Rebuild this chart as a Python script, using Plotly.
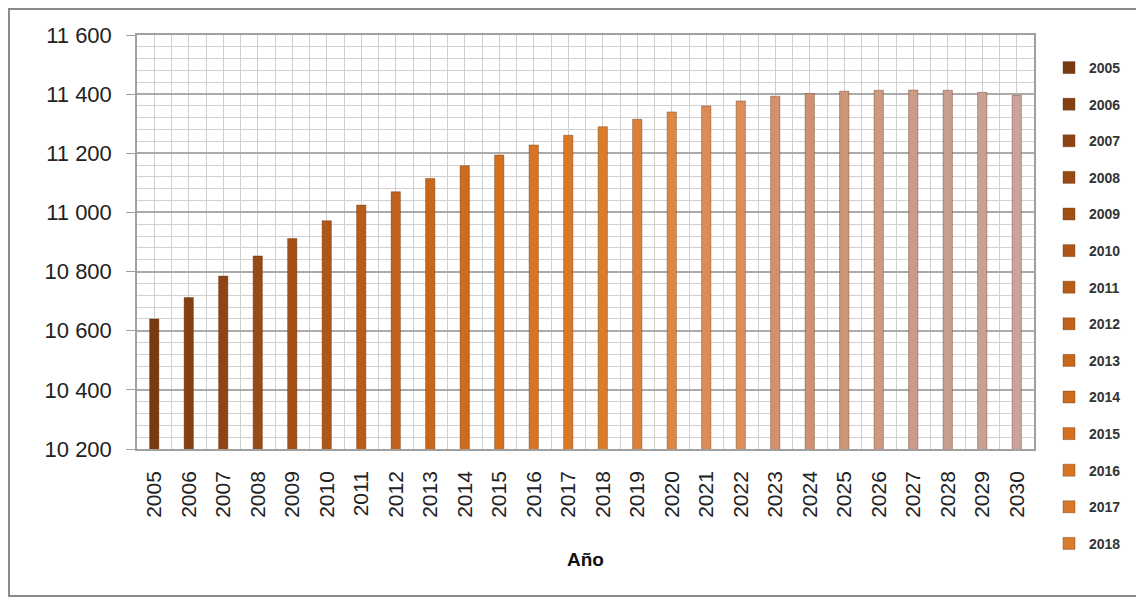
import plotly.graph_objects as go

years = [2005, 2006, 2007, 2008, 2009, 2010, 2011, 2012, 2013, 2014, 2015, 2016, 2017,
         2018, 2019, 2020, 2021, 2022, 2023, 2024, 2025, 2026, 2027, 2028, 2029, 2030]
values = [10640, 10712, 10785, 10853, 10912, 10972, 11025, 11070, 11115, 11158, 11194,
          11228, 11261, 11290, 11315, 11340, 11360, 11377, 11393, 11402, 11410, 11413,
          11414, 11413, 11406, 11396]
colors = ["#7a3a10", "#844012", "#8e4513", "#984b14", "#a25115", "#ad5716", "#b75d17",
          "#c06219", "#c8661a", "#cf6b1c", "#d5701f", "#d87424", "#d97828", "#da7c2e",
          "#dc8038", "#de8645", "#dc8c52", "#d98f5c", "#d49068", "#cf9170", "#cd9678",
          "#cb9a80", "#ca9c88", "#c99e8e", "#c9a094", "#c8a49c"]
legend_years = years[:14]

# page offset of 8px (browser body margin) compensated
OFF = 8
W, H = 1144 - OFF, 601 - OFF
L, R, T, B = 137 - OFF, 1034 - OFF, 35 - OFF, 449 - OFF

fig = go.Figure()
for yr, v, c in zip(years, values, colors):
    fig.add_trace(go.Bar(
        x=[yr], y=[v], name=str(yr), width=0.27,
        marker=dict(color=c, line=dict(color="rgba(90,40,10,0.35)", width=1)),
        showlegend=yr in legend_years, legendgroup=str(yr),
    ))

def px_to_paper_x(px):
    return (px - OFF - L) / (R - L)

def px_to_paper_y(py):
    return (B - (py - OFF)) / (B - T)

fig.update_layout(
    width=W, height=H,
    margin=dict(l=L, r=W - R, t=T, b=H - B),
    paper_bgcolor="white", plot_bgcolor="white",
    barmode="overlay",
    separators=", ",
    font=dict(family="Liberation Sans", color="#222"),
    legend=dict(
        x=px_to_paper_x(1049), y=px_to_paper_y(52), xanchor="left", yanchor="top",
        font=dict(family="Liberation Sans", size=14, color="#333", weight="bold"),
        tracegroupgap=15.4, itemwidth=30, bgcolor="rgba(0,0,0,0)", maxheight=560,
    ),
    xaxis=dict(
        range=[2004.5, 2030.5], tickmode="array", tickvals=years,
        ticktext=[str(y) for y in years], tickangle=-90,
        tickfont=dict(size=21, color="#222"), ticks="", ticklabelstandoff=12,
        showgrid=True, gridcolor="#cfcfcf", gridwidth=1,
        minor=dict(tick0=2004.5, dtick=1, showgrid=True, gridcolor="#cfcfcf", gridwidth=1),
        showline=True, linecolor="#a0a0a0", linewidth=1.5, mirror=True,
        title=dict(text="<b>Año</b>", font=dict(size=19, color="#111"), standoff=36),
        zeroline=False,
    ),
    yaxis=dict(
        range=[10200, 11600], dtick=200, tick0=10200, tickformat=",d",
        tickfont=dict(size=22, color="#222"), ticks="outside", ticklen=9,
        tickcolor="#a0a0a0", ticklabelstandoff=10,
        showgrid=True, gridcolor="#ababab", gridwidth=1.5,
        minor=dict(dtick=40, showgrid=True, gridcolor="#d2d2d2", gridwidth=1),
        showline=True, linecolor="#a0a0a0", linewidth=1.5, mirror=True,
        zeroline=False,
    ),
    shapes=[dict(
        type="rect", xref="paper", yref="paper", layer="above",
        x0=px_to_paper_x(9), x1=px_to_paper_x(1140),
        y0=px_to_paper_y(596), y1=px_to_paper_y(9),
        line=dict(color="#8a8a8a", width=2), fillcolor="rgba(0,0,0,0)",
    )],
)

fig.write_html("out.html")
